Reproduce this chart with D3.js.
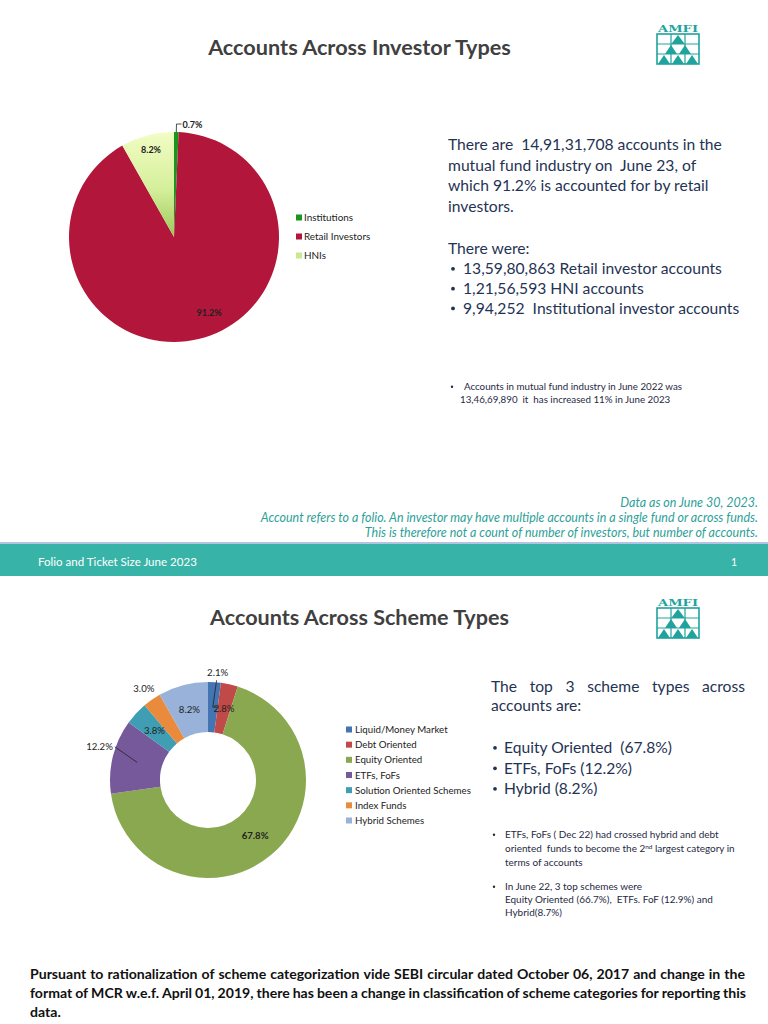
<!DOCTYPE html>
<html><head><meta charset="utf-8">
<script src="https://cdn.jsdelivr.net/npm/d3@7"></script>
<style>body{margin:0;background:#fff}svg{display:block}text{white-space:pre}</style>
</head><body>
<script>
// ---------- DATA ----------
const investorTypes = ["Institutions", "Retail Investors", "HNIs"];
const investorShares = [0.7, 91.2, 8.2];
const investorLabels = ["0.7%", "91.2%", "8.2%"];

const schemeTypes = ["Liquid/Money Market", "Debt Oriented", "Equity Oriented", "ETFs, FoFs",
  "Solution Oriented Schemes", "Index Funds", "Hybrid Schemes"];
const schemeShares = [2.1, 2.8, 67.8, 12.2, 3.8, 3.0, 8.2];
const schemeLabels = ["2.1%", "2.8%", "67.8%", "12.2%", "3.8%", "3.0%", "8.2%"];

// ---------- STYLE / LAYOUT CONFIG ----------
const investorColors = ["#1a961f", "#b2163a", "url(#hniGrad)"];
const investorLegendColors = ["#1a961f", "#b2163a", "#c9e98f"];
const schemeColors = ["#4375b3", "#bf4a48", "#8aa84f", "#76599a", "#3f9eb3", "#ea8a3c", "#98b2da"];
const schemeLabelOutside = [true, false, false, true, false, true, false];

const FONT = "Lato, 'Open Sans', sans-serif";
const W = 768, H = 1024;

const svg = d3.select("body").append("svg").attr("width", W).attr("height", H)
  .style("background", "#fff");

const defs = svg.append("defs");
const grad = defs.append("linearGradient").attr("id", "hniGrad")
  .attr("x1", 0).attr("y1", 0).attr("x2", 0).attr("y2", 1);
grad.append("stop").attr("offset", "0%").attr("stop-color", "#f2fdc4");
grad.append("stop").attr("offset", "55%").attr("stop-color", "#d4ef9a");
grad.append("stop").attr("offset", "100%").attr("stop-color", "#9cc85a");

function txt(parent, s, x, y, o = {}) {
  const t = parent.append("text").attr("x", x).attr("y", y)
    .attr("font-family", o.family || FONT)
    .attr("font-size", o.size || 10)
    .attr("font-weight", o.weight || "normal")
    .attr("font-style", o.style || "normal")
    .attr("fill", o.fill || "#222")
    .attr("text-anchor", o.anchor || "start")
    .text(s);
  return t;
}
function fitSize(t, w) {
  const L = t.node().getComputedTextLength();
  const fs = parseFloat(t.attr("font-size"));
  const nf = fs * w / L;
  t.attr("font-size", nf);
  return nf;
}
function measureSize(s, w, o) {
  const t = txt(svg, s, 0, -100, o);
  const nf = fitSize(t, w);
  t.remove();
  return nf;
}
function justify(parent, s, x0, x1, y, o) {
  const words = s.split(/\s+/);
  const nodes = words.map(wd => txt(parent, wd, 0, y, o));
  const widths = nodes.map(n => n.node().getComputedTextLength());
  const gap = (x1 - x0 - d3.sum(widths)) / (words.length - 1);
  let x = x0;
  nodes.forEach((n, i) => { n.attr("x", x); x += widths[i] + gap; });
}
function bullet(x, y, size, fill) {
  svg.append("circle").attr("cx", x).attr("cy", y - size * 0.33).attr("r", size * 0.12).attr("fill", fill);
}

function drawLogo(x, y) {
  const g = svg.append("g").attr("transform", `translate(${x},${y})`);
  const teal = "#1fa39c";
  g.append("text").attr("x", 22).attr("y", 9).attr("text-anchor", "middle")
    .attr("font-family", "'DejaVu Serif', serif").attr("font-weight", "bold")
    .attr("font-size", 10).attr("fill", teal).attr("textLength", 40).attr("lengthAdjust", "spacingAndGlyphs")
    .text("AMFI");
  g.append("rect").attr("x", 1).attr("y", 11).attr("width", 42).attr("height", 30)
    .attr("fill", "none").attr("stroke", teal).attr("stroke-width", 1.6);
  [15, 29].forEach(v => g.append("line").attr("x1", v).attr("x2", v).attr("y1", 11).attr("y2", 41)
    .attr("stroke", teal).attr("stroke-width", 1.2));
  [21, 31].forEach(v => g.append("line").attr("x1", 1).attr("x2", 43).attr("y1", v).attr("y2", v)
    .attr("stroke", teal).attr("stroke-width", 1.2));
  const tri = [[22, 12, 9], [15, 22, 8], [29, 22, 8], [8, 32, 8], [22, 32, 8], [36, 32, 8]];
  tri.forEach(([cx, ty, hw]) => g.append("path")
    .attr("d", `M${cx},${ty} L${cx + hw * 0.75},${ty + 9} L${cx - hw * 0.75},${ty + 9} Z`).attr("fill", teal));
}

// ================= SECTION 1 =================
const t1 = txt(svg, "Accounts Across Investor Types", 359.5, 55, { size: 20, weight: "bold", fill: "#404040", anchor: "middle" });
fitSize(t1, 303);
drawLogo(656, 23);

// Pie 1
const pie = d3.pie().sort(null).value(d => d);
const R1 = 105, c1 = [174, 237];
const arc1 = d3.arc().innerRadius(0).outerRadius(R1);
const g1 = svg.append("g").attr("transform", `translate(${c1[0]},${c1[1]})`);
const arcs1 = pie(investorShares);
g1.selectAll("path").data(arcs1).join("path")
  .attr("d", arc1).attr("fill", (d, i) => investorColors[i]);

const inLab1 = d3.arc().innerRadius(R1 * 0.86).outerRadius(R1 * 0.86);
arcs1.forEach((d, i) => {
  if (i === 0) {
    const p0 = d3.arc().innerRadius(R1).outerRadius(R1).centroid(d);
    const p1 = d3.arc().innerRadius(R1 + 8).outerRadius(R1 + 8).centroid(d);
    g1.append("path").attr("d", `M${p0[0]},${p0[1]} L${p1[0]},${p1[1]} L${p1[0] + 5},${p1[1]}`)
      .attr("fill", "none").attr("stroke", "#222").attr("stroke-width", 0.8);
    txt(g1, investorLabels[i], p1[0] + 6, p1[1] + 3.5, { size: 9, weight: "bold", fill: "#222" });
  } else {
    let p = inLab1.centroid(d);
    if (i === 1) p = [p[0] + 14, p[1] - 12];
    txt(g1, investorLabels[i], p[0], p[1] + 3.5, { size: 9, weight: "bold", fill: "#222", anchor: "middle" });
  }
});

// Legend 1
const leg1Y = d3.scalePoint().domain(investorTypes).range([218, 256]);
investorTypes.forEach((name, i) => {
  svg.append("rect").attr("x", 296).attr("y", leg1Y(name) - 3.5).attr("width", 6).attr("height", 6)
    .attr("fill", investorLegendColors[i]);
  const t = txt(svg, name, 304, leg1Y(name) + 3, { size: 9.9, fill: "#222" });
});

// Text block 1
const body = { size: 15, fill: "#1f3354" };
const bs = measureSize("There are  14,91,31,708 accounts in the", 274, body);
const bb = { size: bs, fill: "#1f3354" };
["There are  14,91,31,708 accounts in the", "mutual fund industry on  June 23, of",
  "which 91.2% is accounted for by retail", "investors."].forEach((s, i) => txt(svg, s, 448, 150 + i * 20.7, bb));
txt(svg, "There were:", 448, 254, bb);
["13,59,80,863 Retail investor accounts", "1,21,56,593 HNI accounts", "9,94,252  Institutional investor accounts"]
  .forEach((s, i) => {
    bullet(453, 274 + i * 19.8, bs, "#1f3354");
    txt(svg, s, 463, 274 + i * 19.8, bb);
  });

// footnote 1
const fn = { size: 8.3, fill: "#1f2a44" };
const fs1 = measureSize("Accounts in mutual fund industry in June 2022 was", 218, fn);
const fnb = { size: fs1, fill: "#1f2a44" };
bullet(452, 390, fs1, "#1f2a44");
txt(svg, "Accounts in mutual fund industry in June 2022 was", 464, 390, fnb);
txt(svg, "13,46,69,890  it  has increased 11% in June 2023", 460, 403, fnb);

// data notes
const nt = { size: 10.5, style: "italic", fill: "#2e9f98", anchor: "end" };
const ns = measureSize("Account refers to a folio. An investor may have multiple accounts in a single fund or across funds.", 498, nt);
const ntb = Object.assign({}, nt, { size: ns });
txt(svg, "Data as on June 30, 2023.", 758, 507, ntb);
txt(svg, "Account refers to a folio. An investor may have multiple accounts in a single fund or across funds.", 758, 522, ntb);
txt(svg, "This is therefore not a count of number of investors, but number of accounts.", 758, 537, ntb);

// footer band
svg.append("rect").attr("x", 0).attr("y", 542).attr("width", W).attr("height", 2).attr("fill", "#b4c3df");
svg.append("rect").attr("x", 0).attr("y", 544).attr("width", W).attr("height", 32).attr("fill", "#37b4a7");
const ft = txt(svg, "Folio and Ticket Size June 2023", 38, 566, { size: 10.5, fill: "#fff" });
fitSize(ft, 159);
txt(svg, "1", 731, 566, { size: 10.5, fill: "#fff" });

// ================= SECTION 2 =================
const t2 = txt(svg, "Accounts Across Scheme Types", 359.5, 625, { size: 20, weight: "bold", fill: "#404040", anchor: "middle" });
fitSize(t2, 299);
drawLogo(656, 597);

const R2o = 98, R2i = 48, c2 = [208, 780];
const arc2 = d3.arc().innerRadius(R2i).outerRadius(R2o);
const g2 = svg.append("g").attr("transform", `translate(${c2[0]},${c2[1]})`);
const arcs2 = pie(schemeShares);
g2.selectAll("path").data(arcs2).join("path")
  .attr("d", arc2).attr("fill", (d, i) => schemeColors[i]);

const midArc = d3.arc().innerRadius((R2i + R2o) / 2).outerRadius((R2i + R2o) / 2);
arcs2.forEach((d, i) => {
  const pm = midArc.centroid(d);
  if (!schemeLabelOutside[i]) {
    txt(g2, schemeLabels[i], pm[0], pm[1] + 3.5, { size: 9.6, weight: i === 2 ? "bold" : "normal", fill: "#222", anchor: "middle" });
  } else {
    const a = (d.startAngle + d.endAngle) / 2;
    const dir = [Math.sin(a), -Math.cos(a)];
    if (i === 0) {
      const p1 = [dir[0] * 100, dir[1] * 100];
      g2.append("path").attr("d", `M${pm[0] + 5},${pm[1]} L${pm[0]},${pm[1]} L${p1[0] + 2},${p1[1]}`)
        .attr("fill", "none").attr("stroke", "#222").attr("stroke-width", 0.8);
      txt(g2, schemeLabels[i], p1[0] + 3, p1[1] - 4, { size: 9.6, fill: "#222", anchor: "middle" });
    } else if (i === 3) {
      const p1 = [dir[0] * 96, dir[1] * 96 + 2];
      g2.append("line").attr("x1", pm[0]).attr("y1", pm[1]).attr("x2", p1[0]).attr("y2", p1[1] - 12)
        .attr("stroke", "#222").attr("stroke-width", 0.8);
      txt(g2, schemeLabels[i], p1[0] - 2, p1[1] - 8.5, { size: 9.6, fill: "#222", anchor: "end" });
    } else {
      const p1 = [dir[0] * 112, dir[1] * 112];
      txt(g2, schemeLabels[i], p1[0], p1[1] + 3.5, { size: 9.6, fill: "#222", anchor: "middle" });
    }
  }
});

// Legend 2
const leg2Y = d3.scalePoint().domain(schemeTypes).range([730, 821]);
schemeTypes.forEach((name, i) => {
  svg.append("rect").attr("x", 346).attr("y", leg2Y(name) - 3.5).attr("width", 6).attr("height", 6)
    .attr("fill", schemeColors[i]);
  txt(svg, name, 355, leg2Y(name) + 3, { size: 9.7, fill: "#222" });
});

// Right text 2
const b2 = { size: 15.5, fill: "#1f3354" };
const bs2 = measureSize("Equity Oriented  (67.8%)", 168, b2);
const b2b = { size: bs2, fill: "#1f3354" };
justify(svg, "The top 3 scheme types across", 491, 745, 692, b2b);
txt(svg, "accounts are:", 491, 711, b2b);
["Equity Oriented  (67.8%)", "ETFs, FoFs (12.2%)", "Hybrid (8.2%)"].forEach((s, i) => {
  bullet(495, 753 + i * 20.5, bs2, "#1f3354");
  txt(svg, s, 504, 753 + i * 20.5, b2b);
});

const sn = { size: 8.5, fill: "#1f2a44" };
const tmp = txt(svg, "oriented  funds to become the 2", 0, -100, sn);
tmp.append("tspan").attr("font-size", 5.5).attr("dy", -3).text("nd");
tmp.append("tspan").attr("dy", 3).text(" largest category in");
const sns = fitSize(tmp, 230);
tmp.remove();
const snb = { size: sns, fill: "#1f2a44" };
bullet(494, 838, sns, "#1f2a44");
txt(svg, "ETFs, FoFs ( Dec 22) had crossed hybrid and debt", 505, 838, snb);
const l2 = txt(svg, "oriented  funds to become the 2", 505, 852, snb);
l2.append("tspan").attr("font-size", sns * 0.65).attr("dy", -3).text("nd");
l2.append("tspan").attr("dy", 3).text(" largest category in");
txt(svg, "terms of accounts", 505, 866, snb);
bullet(494, 890, sns, "#1f2a44");
txt(svg, "In June 22, 3 top schemes were", 505, 890, snb);
txt(svg, "Equity Oriented (66.7%),  ETFs. FoF (12.9%) and", 505, 903, snb);
txt(svg, "Hybrid(8.7%)", 505, 916, snb);

// bottom paragraph
const bp = { size: 13, weight: "bold", fill: "#111" };
const line1 = "Pursuant to rationalization of scheme categorization vide SEBI circular dated October 06, 2017 and change in the";
const line2 = "format of MCR w.e.f. April 01, 2019, there has been a change in classification of scheme categories for reporting this";
const bps = measureSize(line1, 706, bp);
const bpb = Object.assign({}, bp, { size: bps });
justify(svg, line1, 30, 745, 979, bpb);
justify(svg, line2, 30, 746, 998, bpb);
txt(svg, "data.", 30, 1017, bpb);
</script>
</body></html>
